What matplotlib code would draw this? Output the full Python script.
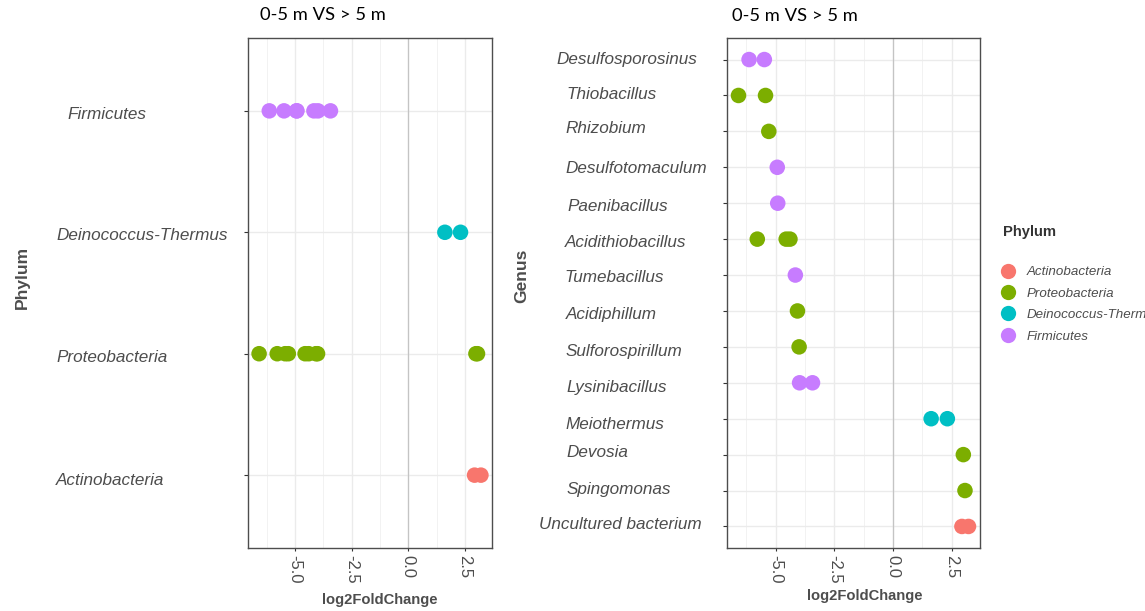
import matplotlib.pyplot as plt
import matplotlib.transforms as mtransforms
from matplotlib.lines import Line2D

# log2 fold change per genus, 0-5 m vs > 5 m
genus = ['Desulfosporosinus', 'Desulfosporosinus',
         'Thiobacillus', 'Thiobacillus',
         'Rhizobium',
         'Desulfotomaculum',
         'Paenibacillus',
         'Acidithiobacillus', 'Acidithiobacillus', 'Acidithiobacillus',
         'Tumebacillus',
         'Acidiphillum',
         'Sulforospirillum',
         'Lysinibacillus', 'Lysinibacillus',
         'Meiothermus', 'Meiothermus',
         'Devosia',
         'Spingomonas',
         'Uncultured bacterium', 'Uncultured bacterium']
phylum = ['Firmicutes', 'Firmicutes',
          'Proteobacteria', 'Proteobacteria',
          'Proteobacteria',
          'Firmicutes',
          'Firmicutes',
          'Proteobacteria', 'Proteobacteria', 'Proteobacteria',
          'Firmicutes',
          'Proteobacteria',
          'Proteobacteria',
          'Firmicutes', 'Firmicutes',
          'Deinococcus-Thermus', 'Deinococcus-Thermus',
          'Proteobacteria',
          'Proteobacteria',
          'Actinobacteria', 'Actinobacteria']
lfc = [-6.13, -5.48,
       -6.58, -5.43,
       -5.29,
       -4.93,
       -4.91,
       -5.78, -4.55, -4.39,
       -4.16,
       -4.07,
       -4.00,
       -3.98, -3.43,
       1.62, 2.31,
       2.99,
       3.06,
       2.93, 3.21]

# factor levels, bottom to top
phylum_levels = ['Actinobacteria', 'Proteobacteria', 'Deinococcus-Thermus', 'Firmicutes']
genus_levels = ['Uncultured bacterium', 'Spingomonas', 'Devosia', 'Meiothermus',
                'Lysinibacillus', 'Sulforospirillum', 'Acidiphillum', 'Tumebacillus',
                'Acidithiobacillus', 'Paenibacillus', 'Desulfotomaculum', 'Rhizobium',
                'Thiobacillus', 'Desulfosporosinus']
legend_order = ['Actinobacteria', 'Proteobacteria', 'Deinococcus-Thermus', 'Firmicutes']
colors = {'Actinobacteria': '#F8766D', 'Proteobacteria': '#7CAE00',
          'Deinococcus-Thermus': '#00BFC4', 'Firmicutes': '#C77CFF'}
xticks = [-5.0, -2.5, 0.0, 2.5]
title = '0-5 m VS > 5 m'

W, H = 1145, 611
TXT = '#4D4D4D'
DOT = 125
plt.rcParams['font.family'] = ['Liberation Sans', 'DejaVu Sans']

fig = plt.figure(figsize=(W / 100, H / 100), dpi=100)


def px(x, y):
    return x / W, 1 - y / H


def axes_at(x0, y0, x1, y1):
    return fig.add_axes([x0 / W, 1 - y1 / H, (x1 - x0) / W, (y1 - y0) / H])


ax1 = axes_at(248, 38, 492, 548)
ax2 = axes_at(727, 38, 980, 548)

# ggplot-like 5% expansion of the continuous axis
lo, hi = min(lfc), max(lfc)
pad = 0.05 * (hi - lo)
xlim = (lo - pad, hi + pad)


def style(ax, levels):
    ax.set_xlim(*xlim)
    ax.set_ylim(0.4, len(levels) + 0.6)
    ax.set_xticks(xticks)
    ax.set_xticks([-6.25, -3.75, -1.25, 1.25], minor=True)
    ax.set_xticklabels([f'{t:.1f}' for t in xticks], rotation=270,
                       fontsize=12, color=TXT)
    ax.set_yticks(range(1, len(levels) + 1))
    ax.set_yticklabels([])
    ax.tick_params(axis='x', which='major', length=2, color='#333333', pad=3)
    ax.tick_params(axis='x', which='minor', length=0)
    ax.tick_params(axis='y', length=3, color='#333333', width=0.8)
    ax.grid(True, which='major', color='#EBEBEB', lw=1.0)
    ax.grid(True, which='minor', axis='x', color='#F2F2F2', lw=0.7)
    ax.axvline(0, color='#C4C4C4', lw=0.9, zorder=1)
    ax.set_axisbelow(True)
    for s in ax.spines.values():
        s.set_color('#4D4D4D')
        s.set_linewidth(1.0)


def label_rows(ax, levels, x_px, dy_px):
    for i, (name, x, dy) in enumerate(zip(levels, x_px, dy_px)):
        tr = mtransforms.offset_copy(ax.get_yaxis_transform(), fig=fig,
                                     x=x, y=-dy, units='dots')
        ax.text(0, i + 1, name, transform=tr, ha='left', va='center',
                fontsize=12.3, style='italic', color=TXT)


# left panel: phylum rows
style(ax1, phylum_levels)
for p in phylum_levels:
    xs = [v for v, q in zip(lfc, phylum) if q == p]
    ax1.scatter(xs, [phylum_levels.index(p) + 1] * len(xs), s=DOT,
                color=colors[p], edgecolors='none', zorder=3)
label_rows(ax1, phylum_levels, [-192, -192, -192, -181], [5, 4, 3, 4])

# right panel: genus rows coloured by phylum
style(ax2, genus_levels)
for p in phylum_levels:
    pts = [(v, genus_levels.index(g) + 1) for v, g, q in zip(lfc, genus, phylum) if q == p]
    ax2.scatter([a for a, b in pts], [b for a, b in pts], s=DOT,
                color=colors[p], edgecolors='none', zorder=3)
genus_x = [-188, -160, -161, -162, -161, -161, -161, -163, -162, -160, -162, -162, -161, -171]
genus_dy = [-2, -1, -2, 6, 5, 5, 4, 2, 3, 3, 1, -3, -1, 0]
label_rows(ax2, genus_levels, genus_x, genus_dy)

# titles above panels
fig.text(*px(260, 15), title, fontsize=13.2, family='Lato', ha='left', va='center')
fig.text(*px(732, 16), title, fontsize=13.2, family='Lato', ha='left', va='center')

# axis titles
fig.text(*px(380, 600), 'log2FoldChange', fontsize=10.6, weight='bold',
         color=TXT, ha='center', va='center')
fig.text(*px(865, 596), 'log2FoldChange', fontsize=10.6, weight='bold',
         color=TXT, ha='center', va='center')
fig.text(*px(22, 277), 'Phylum', fontsize=12.5, weight='bold', color=TXT,
         rotation=90, ha='center', va='center')
fig.text(*px(522, 276), 'Genus', fontsize=12.5, weight='bold', color=TXT,
         rotation=90, ha='center', va='center')

# phylum legend
fig.text(*px(1003, 232), 'Phylum', fontsize=10.6, weight='bold', color='#333333',
         ha='left', va='center')
handles = [Line2D([], [], ls='', marker='o', markersize=11,
                  markerfacecolor=colors[p], markeredgecolor='none')
           for p in legend_order]
leg = fig.legend(handles, legend_order, loc='upper left',
                 bbox_to_anchor=px(1001, 266), frameon=False, borderpad=0,
                 borderaxespad=0, handlelength=1.0, handletextpad=0.9,
                 labelspacing=0.68, prop={'size': 9.6, 'style': 'italic'})
for t in leg.get_texts():
    t.set_color(TXT)

fig.savefig('out.png', dpi=100)
